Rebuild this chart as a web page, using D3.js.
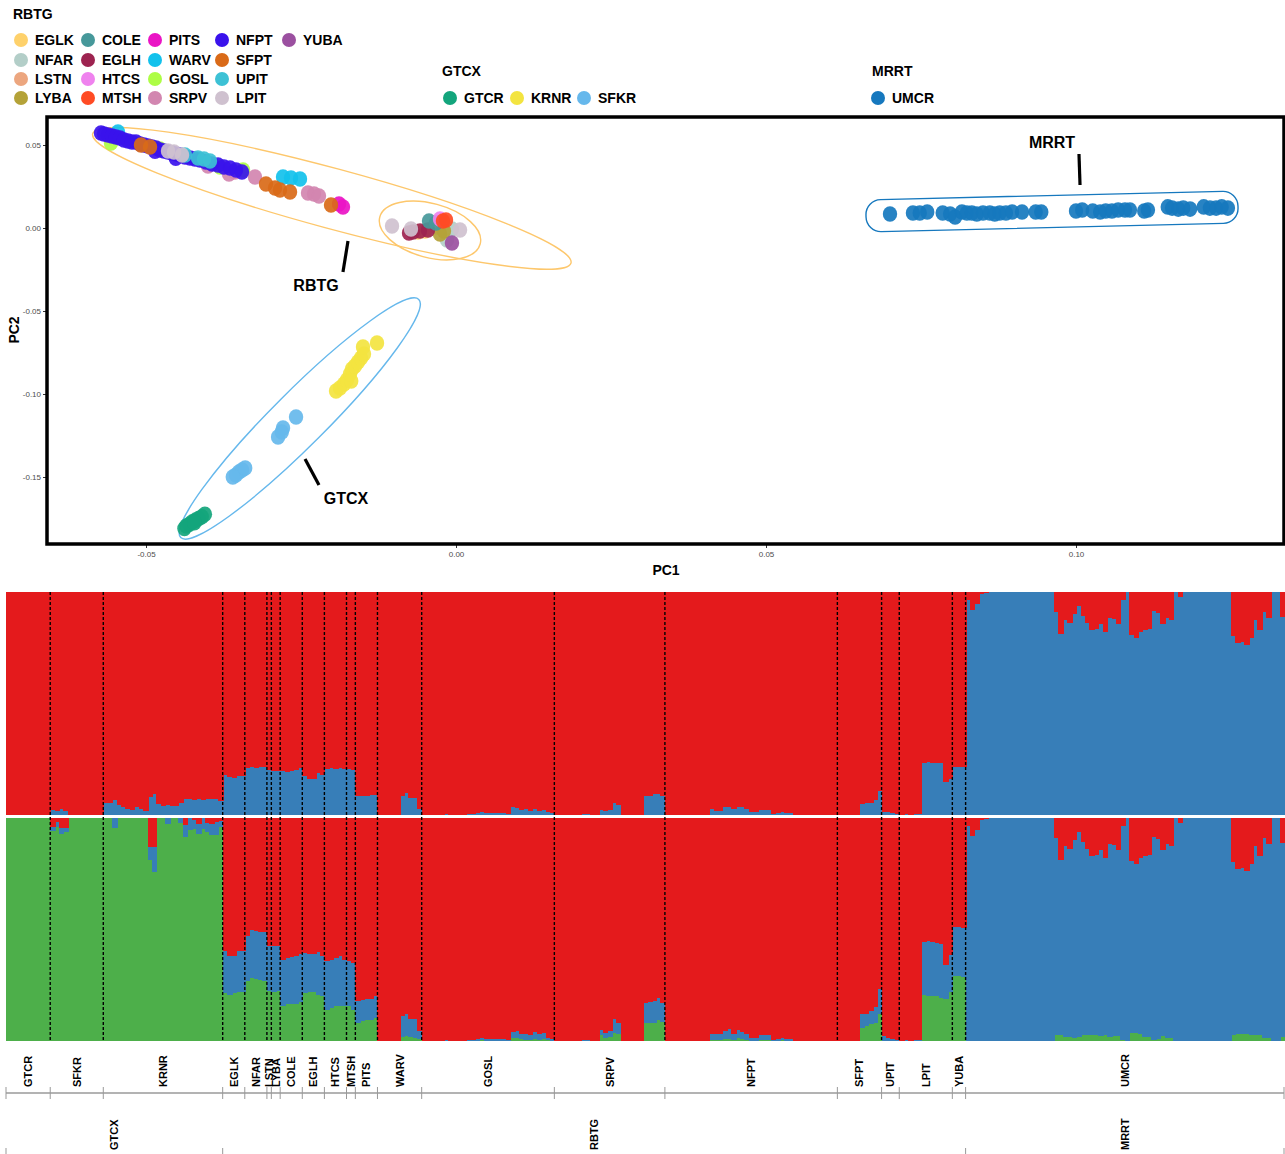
<!DOCTYPE html>
<html>
<head>
<meta charset="utf-8">
<script src="https://cdn.jsdelivr.net/npm/d3@7"></script>
<style>
  body { margin: 0; background: #fff; }
  text { font-family: "Liberation Sans", Arial, Helvetica, sans-serif; }
</style>
</head>
<body>
<script>
var width = 1285,
  height = 1154;

// ---------- population order / groups ----------
var pops = ["GTCR", "SFKR", "KRNR", "EGLK", "NFAR", "LSTN", "LYBA", "COLE", "EGLH", "HTCS",
  "MTSH", "PITS", "WARV", "GOSL", "SRPV", "NFPT", "SFPT", "UPIT", "LPIT", "YUBA", "UMCR"];
var groupNames = ["GTCX", "RBTG", "MRRT"];
var groupOfPop = ["GTCX", "GTCX", "GTCX", "RBTG", "RBTG", "RBTG", "RBTG", "RBTG", "RBTG", "RBTG",
  "RBTG", "RBTG", "RBTG", "RBTG", "RBTG", "RBTG", "RBTG", "RBTG", "RBTG", "RBTG", "MRRT"];

var popColor = {
  EGLK: "#fed16b", NFAR: "#b3cec8", LSTN: "#eca67f", LYBA: "#b4a238",
  COLE: "#46989a", EGLH: "#9d2350", HTCS: "#ef82ee", MTSH: "#ff4b24",
  PITS: "#ea14c5", WARV: "#12c1ec", GOSL: "#adfd45", SRPV: "#d286b0",
  NFPT: "#3a12ec", SFPT: "#d96a18", UPIT: "#3dc1d5", LPIT: "#cfc1cf",
  YUBA: "#9b50a0", GTCR: "#13a57c", KRNR: "#f3e440", SFKR: "#66b8ec",
  UMCR: "#1678be"
};

var legendRBTG = ["EGLK", "NFAR", "LSTN", "LYBA", "COLE", "EGLH", "HTCS", "MTSH", "PITS", "WARV",
  "GOSL", "SRPV", "NFPT", "SFPT", "UPIT", "LPIT", "YUBA"];
var legendGTCX = ["GTCR", "KRNR", "SFKR"];
var legendMRRT = ["UMCR"];

// ---------- PCA scores [pop, PC1, PC2] ----------
var pcaRBTG = [
  ["EGLK", -0.00613, -0.00241], ["EGLK", -0.00500, -0.00181],
  ["NFAR", -0.00145, -0.00723], ["NFAR", -0.00065, -0.00060],
  ["LSTN", -0.00306, 0.00060],
  ["LYBA", -0.00258, -0.00361], ["LYBA", -0.00194, -0.00181],
  ["GOSL", -0.05565, 0.05120], ["GOSL", -0.04774, 0.04759], ["GOSL", -0.03806, 0.03675], ["GOSL", -0.03435, 0.03494],
  ["WARV", -0.05452, 0.05783], ["WARV", -0.02790, 0.03072], ["WARV", -0.02661, 0.03012], ["WARV", -0.02516, 0.02952],
  ["SRPV", -0.04000, 0.03735], ["SRPV", -0.03661, 0.03253], ["SRPV", -0.03565, 0.03373], ["SRPV", -0.03242, 0.03072],
  ["SRPV", -0.02387, 0.02108], ["SRPV", -0.02290, 0.02048], ["SRPV", -0.02210, 0.01928],
  ["NFPT", -0.05726, 0.05723], ["NFPT", -0.05677, 0.05663], ["NFPT", -0.05613, 0.05602], ["NFPT", -0.05548, 0.05542],
  ["NFPT", -0.05484, 0.05482], ["NFPT", -0.05419, 0.05422], ["NFPT", -0.05355, 0.05301], ["NFPT", -0.05290, 0.05241],
  ["NFPT", -0.05226, 0.05181], ["NFPT", -0.05161, 0.05181], ["NFPT", -0.05097, 0.05060], ["NFPT", -0.05032, 0.05000],
  ["NFPT", -0.04968, 0.04940], ["NFPT", -0.04903, 0.04880], ["NFPT", -0.04839, 0.04819], ["NFPT", -0.04774, 0.04699],
  ["NFPT", -0.04710, 0.04639], ["NFPT", -0.04645, 0.04578], ["NFPT", -0.04581, 0.04518], ["NFPT", -0.04516, 0.04458],
  ["NFPT", -0.04452, 0.04398], ["NFPT", -0.04371, 0.04277], ["NFPT", -0.04290, 0.04217], ["NFPT", -0.04210, 0.04157],
  ["NFPT", -0.04129, 0.04096], ["NFPT", -0.04032, 0.03976], ["NFPT", -0.03935, 0.03855], ["NFPT", -0.03839, 0.03795],
  ["NFPT", -0.03742, 0.03675], ["NFPT", -0.03645, 0.03614], ["NFPT", -0.03548, 0.03494], ["NFPT", -0.03452, 0.03373],
  ["NFPT", -0.04855, 0.04620], ["NFPT", -0.04520, 0.04200],
  ["EGLH", -0.00694, -0.00241], ["EGLH", -0.00581, -0.00181], ["EGLH", -0.00452, -0.00120], ["EGLH", -0.00758, -0.00301],
  ["COLE", -0.00435, 0.00422], ["COLE", -0.00323, 0.00301],
  ["HTCS", -0.00258, 0.00542],
  ["MTSH", -0.00210, 0.00422], ["MTSH", -0.00161, 0.00482],
  ["PITS", -0.01887, 0.01446], ["PITS", -0.01823, 0.01265],
  ["SFPT", -0.05081, 0.05000], ["SFPT", -0.04935, 0.04880], ["SFPT", -0.03065, 0.02651], ["SFPT", -0.02919, 0.02410],
  ["SFPT", -0.02839, 0.02289], ["SFPT", -0.02677, 0.02169], ["SFPT", -0.02016, 0.01386],
  ["UPIT", -0.04371, 0.04398], ["UPIT", -0.04161, 0.04217], ["UPIT", -0.04065, 0.04157], ["UPIT", -0.03968, 0.04036],
  ["LPIT", -0.04645, 0.04639], ["LPIT", -0.04548, 0.04578], ["LPIT", -0.04419, 0.04398],
  ["LPIT", -0.01032, 0.00120], ["LPIT", -0.00726, -0.00060], ["LPIT", 0.00065, -0.00120],
  ["YUBA", -0.00065, -0.00904]
];
var pcaGTCX = [
  ["GTCR", -0.0435, -0.1795], ["GTCR", -0.0430, -0.1785], ["GTCR", -0.0425, -0.1770], ["GTCR", -0.0420, -0.1760],
  ["GTCR", -0.0415, -0.1750], ["GTCR", -0.0410, -0.1740], ["GTCR", -0.0405, -0.1725], ["GTCR", -0.0438, -0.1810],
  ["GTCR", -0.0422, -0.1775],
  ["SFKR", -0.0355, -0.1488], ["SFKR", -0.0350, -0.1470], ["SFKR", -0.0345, -0.1458], ["SFKR", -0.0340, -0.1446],
  ["SFKR", -0.0360, -0.1500], ["SFKR", -0.0287, -0.1259], ["SFKR", -0.0279, -0.1205], ["SFKR", -0.0258, -0.1139],
  ["SFKR", -0.0281, -0.1229],
  ["KRNR", -0.01935, -0.0982], ["KRNR", -0.01871, -0.0964], ["KRNR", -0.01806, -0.0940], ["KRNR", -0.01758, -0.0916],
  ["KRNR", -0.01710, -0.0880], ["KRNR", -0.01677, -0.0849], ["KRNR", -0.01629, -0.0831], ["KRNR", -0.01581, -0.0807],
  ["KRNR", -0.01532, -0.0783], ["KRNR", -0.01484, -0.0759], ["KRNR", -0.01500, -0.0717], ["KRNR", -0.01274, -0.0693],
  ["KRNR", -0.01690, -0.0922]
];
var pcaMRRT = [
  0.0700, 0.0737, 0.0748, 0.0760, 0.0785, 0.0797, 0.0805, 0.0816, 0.0824, 0.0832, 0.0840, 0.0850, 0.0861, 0.0869,
  0.0877, 0.0887, 0.0897, 0.0913, 0.0935, 0.0944, 0.1000, 0.1010, 0.1027, 0.1039, 0.1048, 0.1058, 0.1068, 0.1079,
  0.1087, 0.1110, 0.1116, 0.1148, 0.1155, 0.1165, 0.1173, 0.1184, 0.1206, 0.1216, 0.1226, 0.1235, 0.1245
];
var pcaMRRTy = [
  0.0084, 0.0090, 0.0090, 0.0096, 0.0090, 0.0084, 0.0066, 0.0096, 0.0090, 0.0090, 0.0084, 0.0090, 0.0090, 0.0084,
  0.0090, 0.0090, 0.0096, 0.0096, 0.0096, 0.0096, 0.0102, 0.0108, 0.0102, 0.0096, 0.0102, 0.0102, 0.0108, 0.0108,
  0.0108, 0.0102, 0.0108, 0.0127, 0.0120, 0.0114, 0.0120, 0.0114, 0.0127, 0.0120, 0.0120, 0.0127, 0.0120
];

// ---------- admixture proportions (one list per population, pops order) ----------
var k2Blue = [
  [0, 0, 0, 0, 0, 0, 0, 0, 0, 0],
  [0.022, 0.019, 0.028, 0.019, 0, 0, 0, 0, 0, 0, 0, 0],
  [0.052, 0.052, 0.067, 0.045, 0.034, 0.025, 0.022, 0.034, 0.028, 0.019, 0.079, 0.093, 0.049, 0.040,
    0.043, 0.042, 0.042, 0.052, 0.073, 0.070, 0.067, 0.070, 0.069, 0.072, 0.073, 0.070, 0.065],
  [0.179, 0.172, 0.167, 0.175, 0.175],
  [0.209, 0.214, 0.212, 0.217, 0.214],
  [0.202],
  [0.199, 0.199],
  [0.199, 0.194, 0.199, 0.202, 0.209],
  [0.176, 0.161, 0.161, 0.187, 0.179],
  [0.206, 0.211, 0.208, 0.212, 0.208],
  [0.205, 0.202],
  [0.087, 0.085, 0.087, 0.088, 0.088],
  [0, 0, 0, 0, 0, 0.085, 0.097, 0.075, 0.078, 0.025],
  [0, 0, 0, 0, 0, 0.003, 0, 0, 0, 0, 0.005, 0.005, 0.007, 0.012, 0.009, 0.008, 0.008, 0.008, 0.008, 0.005,
    0.034, 0.030, 0.022, 0.025, 0.019, 0.027, 0.019, 0.022, 0.012, 0.007],
  [0, 0, 0, 0, 0, 0, 0.005, 0.004, 0, 0, 0.022, 0.018, 0.022, 0.055, 0.045, 0, 0, 0, 0, 0,
    0.085, 0.085, 0.093, 0.093, 0.085],
  [0, 0, 0, 0, 0, 0, 0, 0, 0, 0, 0.025, 0.019, 0.019, 0.034, 0.034, 0.025, 0.034, 0.034, 0.028, 0.015,
    0.012, 0.022, 0.022, 0.022, 0.003, 0.007, 0.012, 0.007, 0.007, 0, 0, 0, 0, 0, 0, 0, 0, 0, 0],
  [0, 0, 0, 0, 0, 0.048, 0.055, 0.055, 0.067, 0.109],
  [0.012, 0.012, 0.007, 0.004],
  [0, 0.003, 0, 0.004, 0.003, 0.234, 0.236, 0.235, 0.234, 0.232, 0.149, 0.161],
  [0.214, 0.217, 0.214],
  [0.966, 0.921, 0.945, 0.993, 0.997, 1, 1, 1, 1, 1, 1, 1, 1, 1, 1, 1, 1, 1, 1, 1,
    0.910, 0.813, 0.876, 0.861, 0.903, 0.936, 0.891, 0.861, 0.831, 0.834, 0.858, 0.821, 0.885, 0.880, 0.858, 0.966, 1,
    0.806, 0.795, 0.821, 0.828, 0.836, 0.915, 0.907, 0.858, 0.885, 0.876, 1, 0.978,
    1, 1, 1, 1, 1, 1, 1, 1, 1, 1, 1,
    0.801, 0.771, 0.776, 0.764, 0.795, 0.873, 0.831, 0.910, 0.885, 1, 1, 0.888]
];
var k3Green = [
  [1, 1, 1, 1, 1, 1, 1, 1, 1, 1],
  [0.94, 0.96, 0.93, 0.935, 1, 1, 1, 1, 1, 1, 1, 1],
  [1, 1, 0.957, 1, 1, 1, 1, 1, 1, 1, 0.81, 0.76, 1, 1, 0.975, 1, 1, 0.978, 0.915, 0.948, 0.95, 0.93, 0.952,
    0.938, 0.923, 0.922, 0.96],
  [0.216, 0.208, 0.216, 0.220, 0.220],
  [0.268, 0.283, 0.280, 0.275, 0.271],
  [0.223],
  [0.219, 0.223],
  [0.156, 0.164, 0.164, 0.164, 0.174],
  [0.216, 0.220, 0.220, 0.208, 0.204],
  [0.141, 0.149, 0.156, 0.159, 0.156],
  [0.156, 0.141],
  [0.082, 0.089, 0.094, 0.094, 0.104],
  [0, 0, 0, 0, 0, 0.019, 0.022, 0.019, 0.015, 0.007],
  [0, 0, 0, 0, 0, 0, 0, 0, 0, 0, 0, 0, 0, 0.003, 0, 0, 0, 0, 0, 0,
    0.012, 0.012, 0.008, 0.005, 0.005, 0.010, 0.005, 0.010, 0.003, 0],
  [0, 0, 0, 0, 0, 0, 0, 0, 0, 0, 0.025, 0.015, 0.019, 0.034, 0.030, 0, 0, 0, 0, 0,
    0.079, 0.079, 0.082, 0.094, 0.085],
  [0, 0, 0, 0, 0, 0, 0, 0, 0, 0, 0.005, 0.005, 0.005, 0.010, 0.010, 0.005, 0.015, 0.010, 0.005, 0,
    0, 0.003, 0.003, 0.003, 0, 0, 0.003, 0, 0, 0, 0, 0, 0, 0, 0, 0, 0, 0, 0],
  [0, 0, 0, 0, 0, 0.060, 0.067, 0.074, 0.082, 0.119],
  [0, 0, 0, 0],
  [0, 0, 0, 0, 0, 0.208, 0.204, 0.201, 0.201, 0.193, 0.189, 0.219],
  [0.290, 0.293, 0.287],
  [0, 0, 0, 0, 0, 0, 0, 0, 0, 0, 0, 0, 0, 0, 0, 0, 0, 0, 0, 0,
    0.025, 0.028, 0.019, 0.019, 0.015, 0.019, 0.025, 0.025, 0.025, 0.025, 0.022, 0.028, 0.019, 0.022, 0.022, 0.005, 0,
    0.034, 0.034, 0.030, 0.019, 0.019, 0.005, 0.010, 0.022, 0.012, 0.012, 0, 0,
    0, 0, 0, 0, 0, 0, 0, 0, 0, 0, 0,
    0.028, 0.030, 0.030, 0.030, 0.028, 0.025, 0.025, 0.015, 0.015, 0, 0, 0.019]
];
var k3Blue = [
  [0, 0, 0, 0, 0, 0, 0, 0, 0, 0],
  [0.02, 0.02, 0.025, 0.02, 0, 0, 0, 0, 0, 0, 0, 0],
  [0, 0, 0.043, 0, 0, 0, 0, 0, 0, 0, 0.06, 0.11, 0, 0, 0.025, 0, 0, 0.022, 0.052, 0.052, 0.04, 0.045, 0.048,
    0.04, 0.052, 0.06, 0.027],
  [0.186, 0.171, 0.167, 0.182, 0.182],
  [0.204, 0.213, 0.214, 0.216, 0.220],
  [0.201],
  [0.208, 0.204],
  [0.208, 0.208, 0.213, 0.219, 0.217],
  [0.179, 0.171, 0.171, 0.192, 0.176],
  [0.216, 0.216, 0.216, 0.220, 0.208],
  [0.201, 0.211],
  [0.097, 0.097, 0.095, 0.095, 0.097],
  [0, 0, 0, 0, 0, 0.092, 0.101, 0.080, 0.085, 0.037],
  [0, 0, 0, 0, 0, 0.003, 0, 0, 0, 0, 0.005, 0.005, 0.007, 0.012, 0.010, 0.010, 0.010, 0.010, 0.008, 0.005,
    0.030, 0.033, 0.022, 0.028, 0.020, 0.030, 0.025, 0.025, 0.012, 0.007],
  [0, 0, 0, 0, 0, 0, 0.005, 0.004, 0, 0, 0.024, 0.019, 0.025, 0.065, 0.049, 0, 0, 0, 0, 0,
    0.092, 0.095, 0.097, 0.097, 0.086],
  [0, 0, 0, 0, 0, 0, 0, 0, 0, 0, 0.025, 0.025, 0.025, 0.037, 0.045, 0.025, 0.034, 0.030, 0.025, 0.015,
    0.015, 0.022, 0.022, 0.022, 0.003, 0.007, 0.010, 0.007, 0.007, 0, 0, 0, 0, 0, 0, 0, 0, 0, 0],
  [0, 0, 0, 0, 0, 0.060, 0.052, 0.060, 0.071, 0.115],
  [0.022, 0.015, 0.010, 0.005],
  [0, 0.003, 0, 0.004, 0.003, 0.238, 0.244, 0.241, 0.238, 0.241, 0.153, 0.168],
  [0.219, 0.217, 0.219],
  [0.966, 0.921, 0.945, 0.993, 0.997, 1, 1, 1, 1, 1, 1, 1, 1, 1, 1, 1, 1, 1, 1, 1,
    0.885, 0.785, 0.857, 0.842, 0.888, 0.917, 0.866, 0.836, 0.806, 0.809, 0.836, 0.793, 0.866, 0.858, 0.836, 0.961, 1,
    0.772, 0.761, 0.791, 0.809, 0.817, 0.910, 0.897, 0.836, 0.873, 0.864, 1, 0.978,
    1, 1, 1, 1, 1, 1, 1, 1, 1, 1, 1,
    0.773, 0.741, 0.746, 0.734, 0.767, 0.848, 0.806, 0.895, 0.870, 1, 1, 0.869]
];

var clusterColor = { red: "#e41a1c", blue: "#377eb8", green: "#4daf4a" };

var svg = d3
  .select("body")
  .append("svg")
  .attr("width", width)
  .attr("height", height);

// ================= legend =================
var legend = svg.append("g").attr("class", "legend");

function legendTitle(x, y, t) {
  legend.append("text").attr("x", x).attr("y", y + 5)
    .attr("font-size", 14).attr("font-weight", "bold").text(t);
}
function legendItem(x, y, p) {
  legend.append("circle").attr("cx", x).attr("cy", y).attr("r", 7).attr("fill", popColor[p]);
  legend.append("text").attr("x", x + 14).attr("y", y + 5)
    .attr("font-size", 14).attr("font-weight", "bold").text(p);
}
var rowY = [40, 60, 79, 98];
legendTitle(13, 14, "RBTG");
legendRBTG.forEach(function(p, i) {
  legendItem(21 + Math.floor(i / 4) * 67, rowY[i % 4], p);
});
legendTitle(442, 71, "GTCX");
legendGTCX.forEach(function(p, i) { legendItem(450 + i * 67, 98, p); });
legendTitle(872, 71, "MRRT");
legendMRRT.forEach(function(p, i) { legendItem(878 + i * 67, 98, p); });

// ================= PCA panel =================
var frame = { left: 47, top: 117, right: 1284, bottom: 544 };
var xPca = d3.scaleLinear().domain([-0.05, 0.10]).range([146, 1076]);
var yPca = d3.scaleLinear().domain([-0.15, 0.05]).range([477, 145]);
var fmt = function(d) { return d.toFixed(2); };

var pca = svg.append("g").attr("class", "pca");

var xAxis = pca.append("g")
  .attr("transform", "translate(0," + frame.bottom + ")")
  .call(d3.axisBottom(xPca).tickValues([-0.05, 0, 0.05, 0.10]).tickFormat(fmt).tickSize(4).tickPadding(3));
var yAxis = pca.append("g")
  .attr("transform", "translate(" + frame.left + ",0)")
  .call(d3.axisLeft(yPca).tickValues([-0.15, -0.10, -0.05, 0, 0.05]).tickFormat(fmt).tickSize(4).tickPadding(2));
[xAxis, yAxis].forEach(function(a) {
  a.select(".domain").remove();
  a.selectAll("line").attr("stroke", "#333");
  a.selectAll("text").attr("fill", "#4d4d4d").attr("font-size", 8)
    .attr("font-family", "'Liberation Sans', Arial, sans-serif");
});

pca.append("text").attr("x", 666).attr("y", 575).attr("text-anchor", "middle")
  .attr("font-size", 14).attr("font-weight", "bold").text("PC1");
pca.append("text").attr("transform", "translate(19,330) rotate(-90)").attr("text-anchor", "middle")
  .attr("font-size", 14).attr("font-weight", "bold").text("PC2");

// hull ellipses: major-axis endpoints in data units, semi-minor in px
var ellipses = [
  { a: [-0.0586, 0.0568], b: [0.01855, -0.0211], r: 30, color: "#fdc76c" },
  { a: [-0.01229, 0.00663], b: [0.00390, -0.00964], r: 27, color: "#fdc76c" },
  { a: [-0.04440, -0.18650], b: [-0.00600, -0.04300], r: 27, color: "#66b8ec" }
];
ellipses.forEach(function(e) {
  var x1 = xPca(e.a[0]), y1 = yPca(e.a[1]), x2 = xPca(e.b[0]), y2 = yPca(e.b[1]);
  var cx = (x1 + x2) / 2, cy = (y1 + y2) / 2;
  var rx = Math.hypot(x2 - x1, y2 - y1) / 2;
  var ang = Math.atan2(y2 - y1, x2 - x1) * 180 / Math.PI;
  pca.append("ellipse")
    .attr("cx", cx).attr("cy", cy).attr("rx", rx).attr("ry", e.r)
    .attr("transform", "rotate(" + ang + "," + cx + "," + cy + ")")
    .attr("fill", "none").attr("stroke", e.color).attr("stroke-width", 1.4);
});

// MRRT hull (rounded band)
(function() {
  var a = [0.06613, 0.00723], b = [0.12613, 0.01265];
  var x1 = xPca(a[0]), y1 = yPca(a[1]), x2 = xPca(b[0]), y2 = yPca(b[1]);
  var cx = (x1 + x2) / 2, cy = (y1 + y2) / 2;
  var len = Math.hypot(x2 - x1, y2 - y1);
  var ang = Math.atan2(y2 - y1, x2 - x1) * 180 / Math.PI;
  pca.append("rect")
    .attr("x", cx - len / 2).attr("y", cy - 16).attr("width", len).attr("height", 32)
    .attr("rx", 15).attr("ry", 15)
    .attr("transform", "rotate(" + ang + "," + cx + "," + cy + ")")
    .attr("fill", "none").attr("stroke", "#1678be").attr("stroke-width", 1.4);
})();

var pts = pcaRBTG.concat(pcaGTCX).concat(pcaMRRT.map(function(v, i) { return ["UMCR", v, pcaMRRTy[i]]; }));
pca.append("g").selectAll("ellipse")
  .data(pts)
  .enter()
  .append("ellipse")
  .attr("cx", function(d) { return xPca(d[1]); })
  .attr("cy", function(d) { return yPca(d[2]); })
  .attr("rx", 7.2)
  .attr("ry", 7.8)
  .attr("fill", function(d) { return popColor[d[0]]; })
  .attr("fill-opacity", 0.92);

// group annotations
var notes = [
  { t: "RBTG", at: [-0.02258, -0.03434], l: [[-0.01742, -0.00783], [-0.01823, -0.02651]] },
  { t: "GTCX", at: [-0.01774, -0.16265], l: [[-0.02435, -0.13916], [-0.02210, -0.15482]] },
  { t: "MRRT", at: [0.09613, 0.05181], l: [[0.10048, 0.04458], [0.10065, 0.02590]] }
];
notes.forEach(function(n) {
  pca.append("line")
    .attr("x1", xPca(n.l[0][0])).attr("y1", yPca(n.l[0][1]))
    .attr("x2", xPca(n.l[1][0])).attr("y2", yPca(n.l[1][1]))
    .attr("stroke", "#000").attr("stroke-width", 3.2);
  pca.append("text")
    .attr("x", xPca(n.at[0])).attr("y", yPca(n.at[1]) + 6)
    .attr("text-anchor", "middle").attr("font-size", 16).attr("font-weight", "bold").text(n.t);
});

pca.append("rect")
  .attr("x", frame.left).attr("y", frame.top)
  .attr("width", frame.right - frame.left).attr("height", frame.bottom - frame.top)
  .attr("fill", "none").attr("stroke", "#000").attr("stroke-width", 3.5);

// ================= structure barplots =================
var inds = [];
var popSpans = [];
pops.forEach(function(p, i) {
  var start = inds.length;
  k2Blue[i].forEach(function(b, j) {
    var g = k3Green[i][j], b3 = k3Blue[i][j];
    inds.push({
      pop: p,
      k2: { blue: b, red: Math.max(0, 1 - b) },
      k3: { green: g, blue: b3, red: Math.max(0, 1 - g - b3) }
    });
  });
  popSpans.push({ pop: p, group: groupOfPop[i], start: start, end: inds.length });
});

var xStr = d3.scaleBand().domain(d3.range(inds.length)).range([6, 1284]).padding(0);
var xEdge = d3.scaleLinear().domain([0, inds.length]).range([6, 1284]);
var panels = [
  { key: "k2", keys: ["blue", "red"], y: d3.scaleLinear().domain([0, 1]).range([815, 592]) },
  { key: "k3", keys: ["green", "blue", "red"], y: d3.scaleLinear().domain([0, 1]).range([1041, 818]) }
];

var str = svg.append("g").attr("class", "structure");
panels.forEach(function(pan) {
  var rows = inds.map(function(d) { return d[pan.key]; });
  var series = d3.stack().keys(pan.keys)(rows);
  // background in the top cluster colour so no seams show between bars
  str.append("rect")
    .attr("x", 6).attr("width", 1278)
    .attr("y", pan.y(1)).attr("height", pan.y(0) - pan.y(1))
    .attr("fill", clusterColor.red);
  str.append("g").selectAll("g")
    .data(series)
    .enter()
    .append("g")
    .attr("fill", function(s) { return clusterColor[s.key]; })
    .selectAll("rect")
    .data(function(s) { return s; })
    .enter()
    .append("rect")
    .attr("shape-rendering", "crispEdges")
    .attr("x", function(d, i) { return xStr(i); })
    .attr("width", xStr.bandwidth() + 1)
    .attr("y", function(d) { return pan.y(Math.min(1, d[1])); })
    .attr("height", function(d) { return Math.max(0, pan.y(d[0]) - pan.y(Math.min(1, d[1]))); });
});

// dashed population boundaries
str.append("g").selectAll("line")
  .data(popSpans.slice(1))
  .enter()
  .append("line")
  .attr("x1", function(d) { return xEdge(d.start); })
  .attr("x2", function(d) { return xEdge(d.start); })
  .attr("y1", 592).attr("y2", 1041)
  .attr("stroke", "#000").attr("stroke-width", 1.4).attr("stroke-dasharray", "3,2");

// population axis
var axisY = 1093;
str.append("line").attr("x1", 6).attr("x2", 1284).attr("y1", axisY).attr("y2", axisY)
  .attr("stroke", "#b3b3b3").attr("stroke-width", 2);
var edges = popSpans.map(function(d) { return d.start; }).concat([inds.length]);
str.append("g").selectAll("line")
  .data(edges)
  .enter()
  .append("line")
  .attr("x1", function(d) { return xEdge(d); }).attr("x2", function(d) { return xEdge(d); })
  .attr("y1", axisY - 6).attr("y2", axisY + 6)
  .attr("stroke", "#999").attr("stroke-width", 1);

str.append("g").selectAll("text")
  .data(popSpans)
  .enter()
  .append("text")
  .attr("transform", function(d) {
    return "translate(" + (xEdge((d.start + d.end) / 2) + 4) + "," + 1087 + ") rotate(-90)";
  })
  .attr("font-size", 11).attr("font-weight", "bold")
  .text(function(d) { return d.pop; });

// group labels
var groupSpans = groupNames.map(function(g) {
  var s = popSpans.filter(function(d) { return d.group === g; });
  return { group: g, start: d3.min(s, function(d) { return d.start; }), end: d3.max(s, function(d) { return d.end; }) };
});
str.append("g").selectAll("text")
  .data(groupSpans)
  .enter()
  .append("text")
  .attr("transform", function(d) {
    return "translate(" + (xEdge((d.start + d.end) / 2) + 4) + "," + 1150 + ") rotate(-90)";
  })
  .attr("font-size", 11).attr("font-weight", "bold")
  .text(function(d) { return d.group; });
var gEdges = groupSpans.map(function(d) { return d.start; }).concat([inds.length]);
str.append("g").selectAll("line")
  .data(gEdges)
  .enter()
  .append("line")
  .attr("x1", function(d) { return xEdge(d); }).attr("x2", function(d) { return xEdge(d); })
  .attr("y1", 1148).attr("y2", 1154)
  .attr("stroke", "#999").attr("stroke-width", 1);
</script>
</body>
</html>
